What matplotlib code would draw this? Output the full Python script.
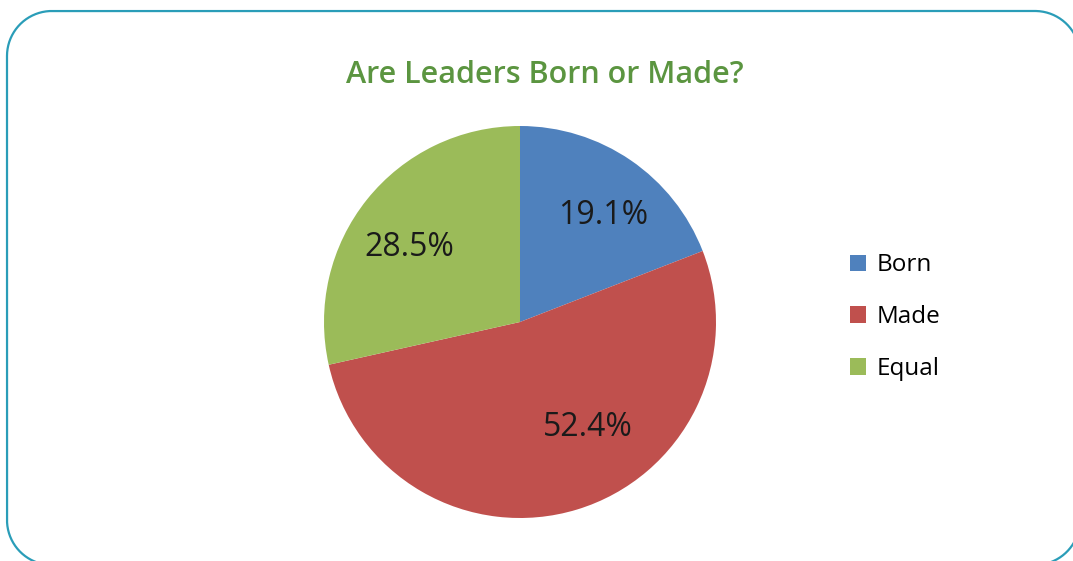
import matplotlib
matplotlib.use("Agg")
import matplotlib.pyplot as plt
from matplotlib.patches import Patch
import numpy as np

categories = ["Born", "Made", "Equal"]
values = [19.1, 52.4, 28.5]
colors = ["#4F81BD", "#C0504D", "#9BBB59"]
title = "Are Leaders Born or Made?"

W, H = 1073, 561
fig = plt.figure(figsize=(W / 100, H / 100), dpi=100)
fig.patch.set_facecolor("white")

# rounded border (figure pixel coords, y measured from bottom)
bg = fig.add_axes([0, 0, 1, 1])
bg.set_xlim(0, W)
bg.set_ylim(0, H)
bg.axis("off")
rad = 45
x0, x1 = 7, 1080
ytop, ybot = H - 11, H - 565
corners = [((x1 - rad, ytop - rad), 0, 90),
           ((x0 + rad, ytop - rad), 90, 180),
           ((x0 + rad, ybot + rad), 180, 270),
           ((x1 - rad, ybot + rad), 270, 360)]
bx, by = [], []
for (ccx, ccy), a0, a1 in corners:
    t = np.radians(np.linspace(a0, a1, 60))
    bx.extend(ccx + rad * np.cos(t))
    by.extend(ccy + rad * np.sin(t))
bx.append(bx[0])
by.append(by[0])
bg.plot(bx, by, color="#2A9DB8", linewidth=1.6, solid_capstyle="round")

bg.text(545, H - 75, title, ha="center", va="center", fontsize=22,
        color="#5B9540", family="Open Sans", fontweight="semibold")

# pie axes: centre (520, 322), radius 196 px
cx, cy, r = 520, 322, 196
ax = fig.add_axes([(cx - r) / W, (H - cy - r) / H, 2 * r / W, 2 * r / H])
wedges, texts, autotexts = ax.pie(values, colors=colors, startangle=90,
                                  counterclock=False, radius=1,
                                  autopct="%.1f%%", pctdistance=0.68,
                                  wedgeprops=dict(linewidth=0))
ax.set_xlim(-1, 1)
ax.set_ylim(-1, 1)
# label placement (radius fraction, angle degrees) like Excel's best fit
label_pos = [(0.69, 52), (0.64, -57), (0.68, 146)]
for t, (rr, ang) in zip(autotexts, label_pos):
    t.set_position((rr * np.cos(np.radians(ang)), rr * np.sin(np.radians(ang))))
    t.set_fontsize(23)
    t.set_color("#1a1a1a")
    t.set_family("Open Sans")

handles = [Patch(facecolor=c, edgecolor="none") for c in colors]
leg = fig.legend(handles, categories, loc="upper left",
                 bbox_to_anchor=(838 / W, 1 - 241 / H), frameon=False,
                 prop=dict(family="Open Sans", size=17.5),
                 handlelength=0.65, handleheight=0.65, handletextpad=0.45,
                 labelspacing=1.15, borderpad=0)

fig.savefig("out.png", dpi=100, facecolor="white")
